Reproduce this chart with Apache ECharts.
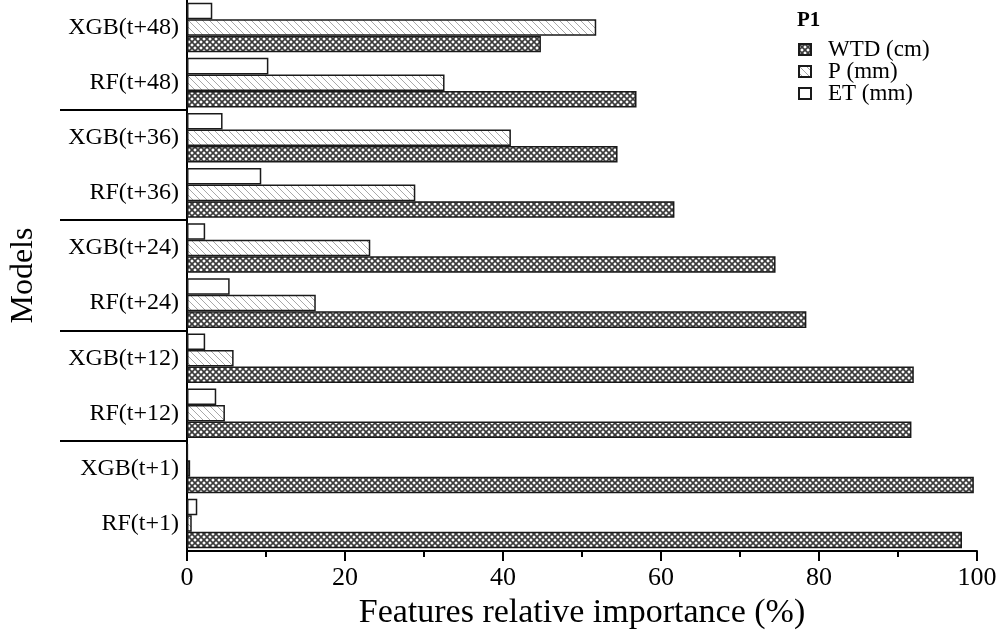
<!DOCTYPE html>
<html>
<head>
<meta charset="utf-8">
<script src="https://cdn.jsdelivr.net/npm/echarts@6/dist/echarts.min.js"></script>
<style>html,body{margin:0;padding:0;background:#fff}#c{width:1005px;height:635px}</style>
</head>
<body>
<div id="c"></div>
<script>
var categories = ['RF(t+1)','XGB(t+1)','RF(t+12)','XGB(t+12)','RF(t+24)','XGB(t+24)','RF(t+36)','XGB(t+36)','RF(t+48)','XGB(t+48)'];
var seriesNames = ['WTD (cm)','P (mm)','ET (mm)'];
var wtd = [98.1, 99.6, 91.7, 92.0, 78.4, 74.5, 61.7, 54.5, 56.9, 44.8];
var p   = [0.6, 0.4, 4.8, 5.9, 16.3, 23.2, 28.9, 41.0, 32.6, 51.8];
var et  = [1.3, 0.1, 3.7, 2.3, 5.4, 2.3, 9.4, 4.5, 10.3, 3.2];
var xTicks = [0, 20, 40, 60, 80, 100];
var groupBreaks = [2, 4, 6, 8];
var legendTitle = 'P1';
var xName = 'Features relative importance (%)';
var yName = 'Models';

var FONT = 'Liberation Serif';

function crossPattern() {
  var s = 6, c = document.createElement('canvas');
  c.width = s; c.height = s;
  var g = c.getContext('2d');
  g.fillStyle = '#ffffff'; g.fillRect(0, 0, s, s);
  g.strokeStyle = '#3c3c3c'; g.lineWidth = 1.7;
  g.beginPath();
  g.moveTo(-1, -1); g.lineTo(s + 1, s + 1);
  g.moveTo(s + 1, -1); g.lineTo(-1, s + 1);
  g.stroke();
  return c;
}
function hatchPattern() {
  var s = 7, c = document.createElement('canvas');
  c.width = s; c.height = s;
  var g = c.getContext('2d');
  g.fillStyle = '#ffffff'; g.fillRect(0, 0, s, s);
  g.strokeStyle = '#a8a8a8'; g.lineWidth = 1;
  g.beginPath();
  g.moveTo(-1, -1); g.lineTo(s + 1, s + 1);
  g.moveTo(-1, s - 1); g.lineTo(1, s + 1);
  g.moveTo(s - 1, -1); g.lineTo(s + 1, 1);
  g.stroke();
  return c;
}

var fills = {
  'WTD (cm)': { image: crossPattern(), repeat: 'repeat' },
  'P (mm)': { image: hatchPattern(), repeat: 'repeat' },
  'ET (mm)': '#ffffff'
};
var dataSets = { 'WTD (cm)': wtd, 'P (mm)': p, 'ET (mm)': et };
// draw order bottom-to-top inside each category: WTD, P, ET  -> ECharts puts first series on top
var drawOrder = ['ET (mm)', 'P (mm)', 'WTD (cm)'];

var chart = echarts.init(document.getElementById('c'));
chart.setOption({
  backgroundColor: '#ffffff',
  animation: false,
  title: {
    text: legendTitle, left: 792, top: 5,
    textStyle: { fontFamily: FONT, fontWeight: 'bold', fontSize: 21, color: '#000' }
  },
  legend: {
    orient: 'vertical', left: 793, top: 33, itemGap: -1,
    itemWidth: 12, itemHeight: 11, icon: 'rect',
    data: seriesNames,
    textStyle: { fontFamily: FONT, fontSize: 23, color: '#000', lineHeight: 22, padding: [0, 0, 0, 12] }
  },
  grid: { left: 184, right: 28, top: -3, bottom: 82, containLabel: false },
  xAxis: {
    type: 'value', min: 0, max: 100, interval: 20,
    name: xName, nameLocation: 'middle', nameGap: 36,
    nameTextStyle: { fontFamily: FONT, fontSize: 34, color: '#000' },
    axisLine: { show: true, lineStyle: { color: '#000', width: 2 } },
    axisTick: { show: true, length: 10, lineStyle: { color: '#000', width: 2 } },
    minorTick: { show: true, splitNumber: 2, length: 6, lineStyle: { color: '#000', width: 2 } },
    splitLine: { show: false },
    axisLabel: {
      fontFamily: FONT, fontSize: 26, color: '#000', margin: 14,
      formatter: function (v) { return xTicks.indexOf(v) >= 0 ? String(v) : ''; }
    }
  },
  yAxis: {
    type: 'category', data: categories,
    name: yName, nameLocation: 'middle', nameGap: 147, nameRotate: 90,
    nameTextStyle: { fontFamily: FONT, fontSize: 32, color: '#000' },
    axisLine: { show: true, lineStyle: { color: '#000', width: 2 } },
    axisTick: { show: false },
    axisLabel: { interval: 0, fontFamily: FONT, fontSize: 24, color: '#000', margin: 8 },
    splitLine: { show: false }
  },
  series: drawOrder.map(function (n) {
    return {
      name: n, type: 'bar', data: dataSets[n],
      barGap: '0%', barCategoryGap: '10%',
      itemStyle: { color: fills[n], borderColor: '#1a1a1a', borderWidth: 1.5 }
    };
  })
});

// group separator lines on the category axis, positioned through the axis scale
var x0 = chart.convertToPixel({ xAxisIndex: 0 }, 0);
var seps = groupBreaks.map(function (i) {
  var ya = chart.convertToPixel({ yAxisIndex: 0 }, categories[i - 1]);
  var yb = chart.convertToPixel({ yAxisIndex: 0 }, categories[i]);
  var y = Math.round((ya + yb) / 2);
  return {
    type: 'line', silent: true,
    shape: { x1: x0 - 127, y1: y, x2: x0, y2: y },
    style: { stroke: '#000', lineWidth: 2 }
  };
});
chart.setOption({ graphic: seps });
</script>
</body>
</html>
